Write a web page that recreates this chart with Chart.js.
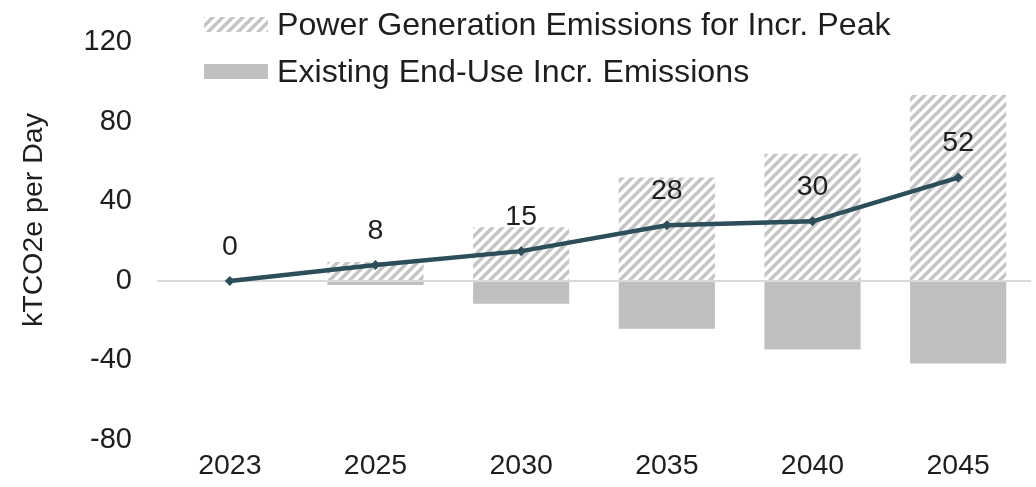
<!DOCTYPE html>
<html>
<head>
<meta charset="utf-8">
<script src="https://cdn.jsdelivr.net/npm/chart.js@4/dist/chart.umd.min.js"></script>
<style>
  html, body { margin: 0; padding: 0; background: #fff; }
  #wrap { width: 1036px; height: 487px; }
</style>
</head>
<body>
<div id="wrap"><canvas id="emissions-chart"></canvas></div>
<script>
// Chart data
const years = ['2023', '2025', '2030', '2035', '2040', '2045'];
const powerGenPeak = [0, 9.5, 27, 52, 64, 93.5];
const existingEndUse = [0, -2, -11.5, -24, -34.5, -41.5];
const netEmissions = [0, 8, 15, 28, 30, 52];
const yTicks = [-80, -40, 0, 40, 80, 120];
const yTitle = 'kTCO2e per Day';

const FONT = "'Liberation Sans', Arial, sans-serif";
const TEXT_COLOR = '#1e1e1e';
const HATCH_COLOR = '#c4c4c4';
const SOLID_GRAY = '#bfbfbf';
const LINE_COLOR = '#2c4e5b';

// diagonal hatch like Excel's wide upward diagonal
const makeHatch = () => {
    const size = 10;
    const c = document.createElement('canvas');
    c.width = size;
    c.height = size;
    const g = c.getContext('2d');
    g.strokeStyle = HATCH_COLOR;
    g.lineWidth = 3.4;
    g.beginPath();
    g.moveTo(0, size); g.lineTo(size, 0);
    g.moveTo(-size / 2, size / 2); g.lineTo(size / 2, -size / 2);
    g.moveTo(size / 2, size * 1.5); g.lineTo(size * 1.5, size / 2);
    g.stroke();
    return g.createPattern(c, 'repeat');
};
const hatch = makeHatch();

// Legend drawn inside the plot, stacked in two rows; y title drawn here too
const legendPlugin = {
    id: 'insideLegend',
    afterDraw(chart) {
        const ctx = chart.ctx;
        const left = chart.chartArea.left + 47;
        const rows = [
            { y: 25, fill: hatch, text: 'Power Generation Emissions for Incr. Peak' },
            { y: 72, fill: SOLID_GRAY, text: 'Existing End-Use Incr. Emissions' }
        ];
        ctx.save();
        ctx.font = `32.2px ${FONT}`;
        ctx.textBaseline = 'middle';
        rows.forEach(r => {
            ctx.fillStyle = r.fill;
            ctx.fillRect(left, r.y - 8, 64, 15);
            ctx.fillStyle = TEXT_COLOR;
            ctx.fillText(r.text, left + 73, r.y + 1);
        });

        // rotated axis title
        ctx.translate(34, 220);
        ctx.rotate(-Math.PI / 2);
        ctx.textAlign = 'center';
        ctx.font = `28.5px ${FONT}`;
        ctx.fillText(yTitle, 0, 0);
        ctx.restore();
    }
};

// Value labels above the line points
const lineLabels = {
    id: 'lineLabels',
    afterDatasetsDraw(chart) {
        const ctx = chart.ctx;
        const meta = chart.getDatasetMeta(2);
        ctx.save();
        ctx.font = `28.5px ${FONT}`;
        ctx.fillStyle = TEXT_COLOR;
        ctx.textAlign = 'center';
        ctx.textBaseline = 'middle';
        meta.data.forEach((pt, i) => {
            ctx.fillText(String(netEmissions[i]), pt.x, pt.y - 34);
        });
        ctx.restore();
    }
};

new Chart(document.getElementById('emissions-chart'), {
    data: {
        labels: years,
        datasets: [
            {
                type: 'bar',
                label: 'Power Generation Emissions for Incr. Peak',
                data: powerGenPeak,
                backgroundColor: hatch,
                barPercentage: 0.66,
                categoryPercentage: 1,
                order: 2
            },
            {
                type: 'bar',
                label: 'Existing End-Use Incr. Emissions',
                data: existingEndUse,
                backgroundColor: SOLID_GRAY,
                barPercentage: 0.66,
                categoryPercentage: 1,
                order: 1
            },
            {
                type: 'line',
                label: 'Net',
                data: netEmissions,
                borderColor: LINE_COLOR,
                backgroundColor: LINE_COLOR,
                borderWidth: 4.5,
                pointStyle: 'rectRot',
                pointRadius: 5,
                pointBorderWidth: 0,
                tension: 0,
                order: 0
            }
        ]
    },
    options: {
        responsive: true,
        maintainAspectRatio: false,
        animation: false,
        layout: { padding: { top: 40, right: 5, bottom: 0, left: 0 } },
        scales: {
            x: {
                stacked: true,
                afterFit: axis => { axis.height = 47; },
                grid: { display: false, drawTicks: false },
                border: { display: false },
                ticks: { color: TEXT_COLOR, font: { family: FONT, size: 28.5 }, padding: 9 }
            },
            y: {
                stacked: true,
                min: -80,
                max: 120,
                afterBuildTicks: axis => { axis.ticks = yTicks.map(v => ({ value: v })); },
                afterFit: axis => { axis.width = 157; },
                border: { display: false },
                grid: {
                    drawTicks: false,
                    lineWidth: 2,
                    color: c => (c.tick && c.tick.value === 0 ? '#d9d9d9' : 'rgba(0,0,0,0)')
                },
                ticks: { color: TEXT_COLOR, font: { family: FONT, size: 29 }, padding: 25 }
            }
        },
        plugins: {
            legend: { display: false },
            tooltip: { enabled: false }
        }
    },
    plugins: [legendPlugin, lineLabels]
});
</script>
</body>
</html>
